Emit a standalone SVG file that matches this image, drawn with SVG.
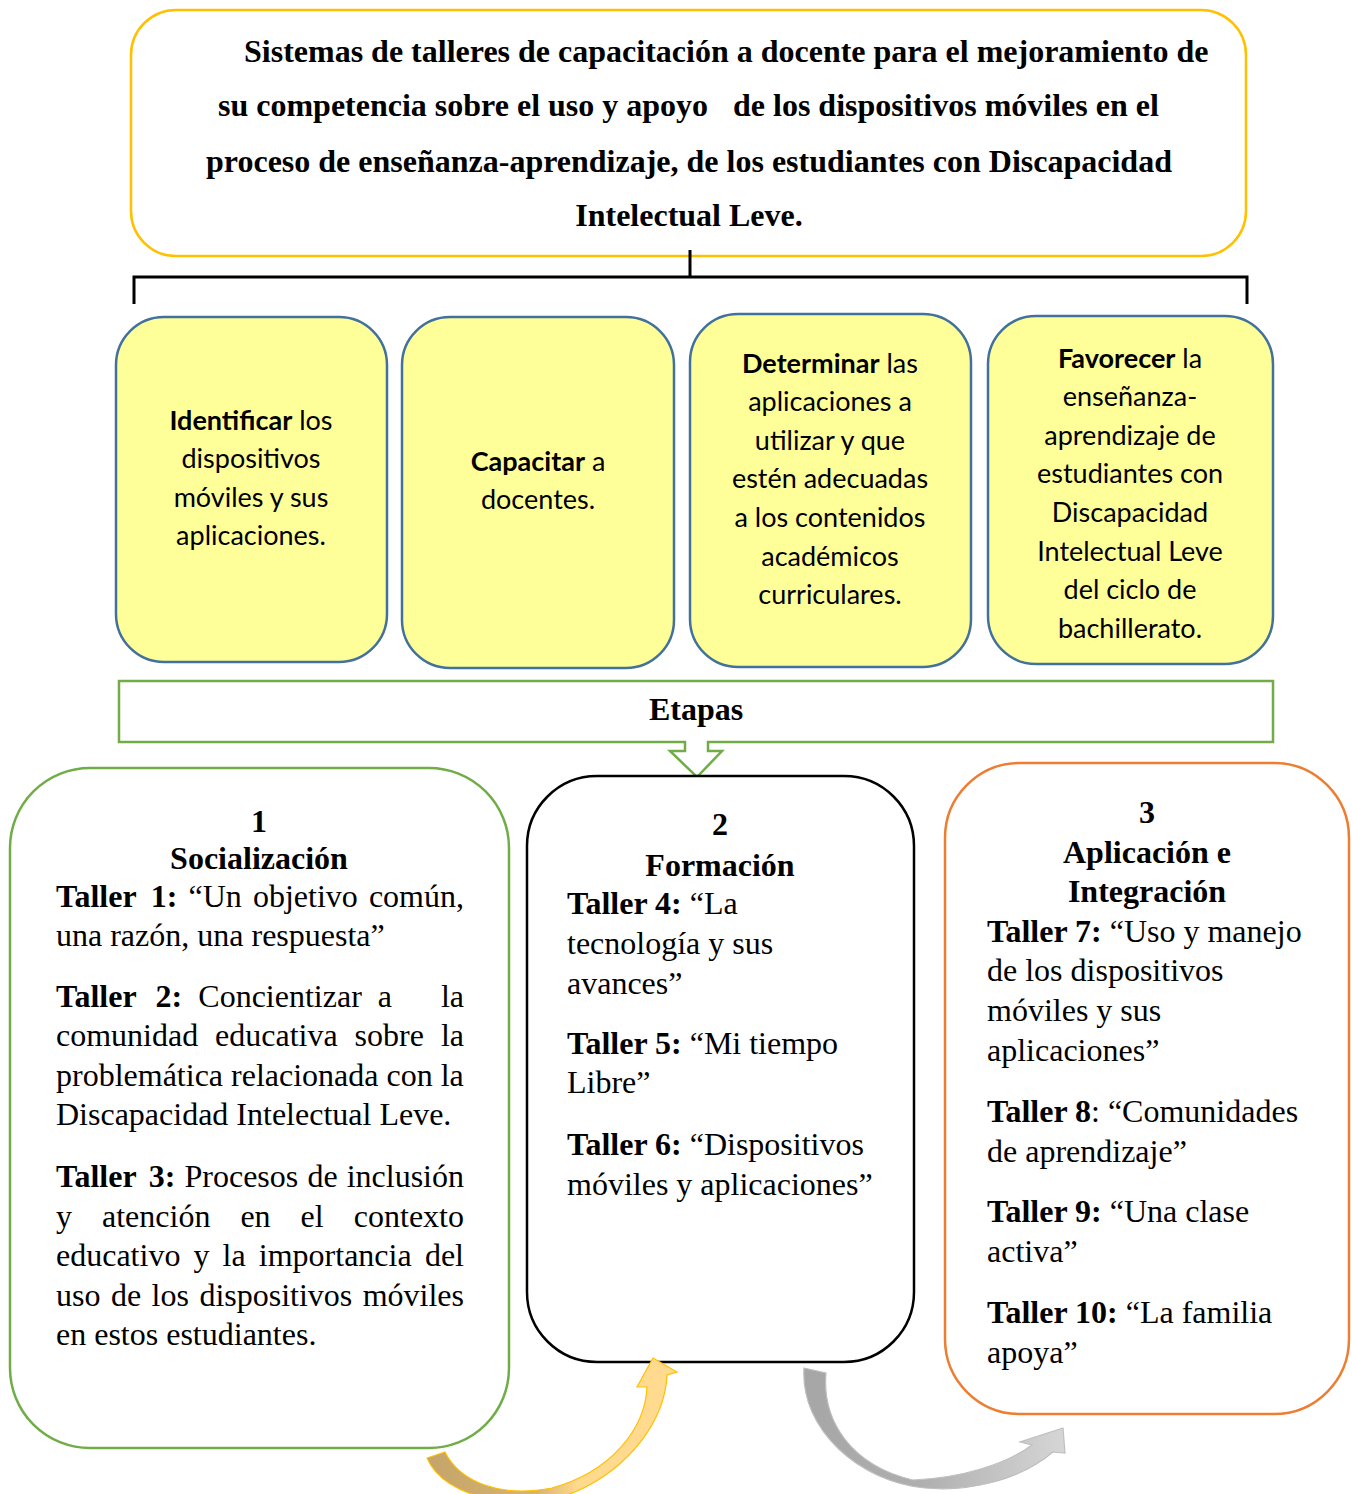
<svg xmlns="http://www.w3.org/2000/svg" width="1352" height="1494" viewBox="0 0 1352 1494">
<defs>
<style>
.t{font-family:"Liberation Serif","Times New Roman",serif;font-size:32px;fill:#000}
.b{font-weight:bold}
.c{font-family:Lato,"Noto Sans",sans-serif;font-size:27px;fill:#000}
.mid{text-anchor:middle}
.end{text-anchor:end}
.ybox{fill:#FFFF99;stroke:#41719C;stroke-width:2.5}
</style>
<linearGradient id="gGold" x1="0" y1="0" x2="1" y2="0">
<stop offset="0" stop-color="#C4A46A"/>
<stop offset="0.45" stop-color="#D9B56E"/>
<stop offset="0.6" stop-color="#FFD98E"/>
<stop offset="1" stop-color="#FFDB8F"/>
</linearGradient>
<linearGradient id="gGray" x1="0" y1="0" x2="1" y2="0">
<stop offset="0" stop-color="#A6A6A6"/>
<stop offset="0.45" stop-color="#AFAFAF"/>
<stop offset="1" stop-color="#D6D6D6"/>
</linearGradient>
</defs>

<g id="title">
<rect x="131" y="10" width="1115" height="246" rx="45" fill="#fff" stroke="#FFC000" stroke-width="2.5"/>
<text class="t b" x="244" y="62">Sistemas de talleres de capacitación a docente para el mejoramiento de</text>
<text class="t b" x="218" y="116">su competencia sobre el uso y apoyo</text>
<text class="t b" x="733" y="116">de los dispositivos móviles en el</text>
<text class="t b" x="206" y="172">proceso de enseñanza-aprendizaje, de los estudiantes con Discapacidad</text>
<text class="t b mid" x="689" y="226">Intelectual Leve.</text>
</g>

<g id="connectors" fill="none" stroke="#000">
<path d="M690,250 V277 M134,304 V277 H1247 V304" stroke-width="3"/>
</g>

<g id="obj1">
<rect class="ybox" x="116" y="317" width="271" height="345" rx="48"/>
<text class="c mid" x="251" y="430"><tspan font-weight="bold">Identificar</tspan> los</text>
<text class="c mid" x="251" y="468">dispositivos</text>
<text class="c mid" x="251" y="507">móviles y sus</text>
<text class="c mid" x="251" y="545">aplicaciones.</text>
</g>
<g id="obj2">
<rect class="ybox" x="402" y="317" width="272" height="351" rx="48"/>
<text class="c mid" x="538" y="471"><tspan font-weight="bold">Capacitar</tspan> a</text>
<text class="c mid" x="538" y="509">docentes.</text>
</g>
<g id="obj3">
<rect class="ybox" x="690" y="314" width="281" height="353" rx="48"/>
<text class="c mid" x="830" y="373"><tspan font-weight="bold">Determinar</tspan> las</text>
<text class="c mid" x="830" y="411">aplicaciones a</text>
<text class="c mid" x="830" y="450">utilizar y que</text>
<text class="c mid" x="830" y="488">estén adecuadas</text>
<text class="c mid" x="830" y="527">a los contenidos</text>
<text class="c mid" x="830" y="566">académicos</text>
<text class="c mid" x="830" y="604">curriculares.</text>
</g>
<g id="obj4">
<rect class="ybox" x="988" y="316" width="285" height="348" rx="48"/>
<text class="c mid" x="1130" y="368"><tspan font-weight="bold">Favorecer</tspan> la</text>
<text class="c mid" x="1130" y="406">enseñanza-</text>
<text class="c mid" x="1130" y="445">aprendizaje de</text>
<text class="c mid" x="1130" y="483">estudiantes con</text>
<text class="c mid" x="1130" y="522">Discapacidad</text>
<text class="c mid" x="1130" y="561">Intelectual Leve</text>
<text class="c mid" x="1130" y="599">del ciclo de</text>
<text class="c mid" x="1130" y="638">bachillerato.</text>
</g>

<g id="etapas">
<path d="M119,681 H1273 V742 H708 V751 H722 L697,777 L670,751 H685 V742 H119 Z" fill="#fff" stroke="#70AD47" stroke-width="2.5"/>
<text class="t b mid" x="696" y="720">Etapas</text>
</g>

<g id="stage1">
<rect x="10" y="768" width="499" height="680" rx="80" fill="#fff" stroke="#70AD47" stroke-width="2.5"/>
<text class="t b mid" x="259" y="832">1</text>
<text class="t b mid" x="259" y="869">Socialización</text>
<text class="t b" x="56" y="907">Taller</text><text class="t b" x="150.7" y="907">1:</text><text class="t" x="188.5" y="907">“Un</text><text class="t" x="252.9" y="907">objetivo</text><text class="t end" x="464" y="907">común,</text>
<text class="t" x="56" y="946">una razón, una respuesta”</text>
<text class="t b" x="56" y="1007">Taller</text><text class="t b" x="155.6" y="1007">2:</text><text class="t" x="198.3" y="1007">Concientizar</text><text class="t" x="377.8" y="1007">a</text><text class="t end" x="464" y="1007">la</text>
<text class="t" x="56" y="1046">comunidad</text><text class="t" x="215.1" y="1046">educativa</text><text class="t" x="354.6" y="1046">sobre</text><text class="t end" x="464" y="1046">la</text>
<text class="t" x="56" y="1086">problemática relacionada con la</text>
<text class="t" x="56" y="1125">Discapacidad Intelectual Leve.</text>
<text class="t b" x="56" y="1187">Taller</text><text class="t b" x="148.7" y="1187">3:</text><text class="t" x="184.5" y="1187">Procesos</text><text class="t" x="307.4" y="1187">de</text><text class="t end" x="464" y="1187">inclusión</text>
<text class="t" x="56" y="1227">y</text><text class="t" x="102" y="1227">atención</text><text class="t" x="240.4" y="1227">en</text><text class="t" x="300.6" y="1227">el</text><text class="t end" x="464" y="1227">contexto</text>
<text class="t" x="56" y="1266">educativo</text><text class="t" x="193.5" y="1266">y</text><text class="t" x="222.6" y="1266">la</text><text class="t" x="258.8" y="1266">importancia</text><text class="t end" x="464" y="1266">del</text>
<text class="t" x="56" y="1306">uso</text><text class="t" x="110.9" y="1306">de</text><text class="t" x="151.6" y="1306">los</text><text class="t" x="199.4" y="1306">dispositivos</text><text class="t end" x="464" y="1306">móviles</text>
<text class="t" x="56" y="1345">en estos estudiantes.</text>
</g>

<g id="stage2">
<rect x="527" y="776" width="387" height="586" rx="70" fill="#fff" stroke="#000" stroke-width="2.5"/>
<text class="t b mid" x="720" y="835">2</text>
<text class="t b mid" x="720" y="876">Formación</text>
<text class="t" x="567" y="914"><tspan class="b">Taller 4:</tspan> “La</text>
<text class="t" x="567" y="954">tecnología y sus</text>
<text class="t" x="567" y="994">avances”</text>
<text class="t" x="567" y="1054"><tspan class="b">Taller 5:</tspan> “Mi tiempo</text>
<text class="t" x="567" y="1093">Libre”</text>
<text class="t" x="567" y="1155"><tspan class="b">Taller 6:</tspan> “Dispositivos</text>
<text class="t" x="567" y="1195">móviles y aplicaciones”</text>
</g>

<g id="stage3">
<rect x="945" y="763" width="404" height="651" rx="75" fill="#fff" stroke="#ED7D31" stroke-width="2.5"/>
<text class="t b mid" x="1147" y="823">3</text>
<text class="t b mid" x="1147" y="863">Aplicación e</text>
<text class="t b mid" x="1147" y="902">Integración</text>
<text class="t" x="987" y="942"><tspan class="b">Taller 7:</tspan> “Uso y manejo</text>
<text class="t" x="987" y="981">de los dispositivos</text>
<text class="t" x="987" y="1021">móviles y sus</text>
<text class="t" x="987" y="1061">aplicaciones”</text>
<text class="t" x="987" y="1122"><tspan class="b">Taller 8</tspan>: “Comunidades</text>
<text class="t" x="987" y="1162">de aprendizaje”</text>
<text class="t" x="987" y="1222"><tspan class="b">Taller 9:</tspan> “Una clase</text>
<text class="t" x="987" y="1262">activa”</text>
<text class="t" x="987" y="1323"><tspan class="b">Taller 10:</tspan> “La familia</text>
<text class="t" x="987" y="1363">apoya”</text>
</g>

<g id="arrows">
<path d="M427,1458 C445,1500 520,1512 575,1492 C630,1468 665,1420 667,1375 L677,1372 L653,1358 L637,1387 L647,1387 C645,1430 610,1472 552,1488 C500,1498 460,1482 445,1452 Z" fill="url(#gGold)" stroke="#FFC000" stroke-width="1.2"/>
<path d="M804,1368 L826,1373 C822,1420 850,1465 913,1480 C960,1478 1005,1465 1032,1445 L1020,1442 L1063,1428 L1065,1453 L1053,1452 C1020,1480 970,1492 925,1488 C860,1482 800,1430 804,1368 Z" fill="url(#gGray)" stroke="#BFBFBF" stroke-width="1.2"/>
</g>
</svg>
